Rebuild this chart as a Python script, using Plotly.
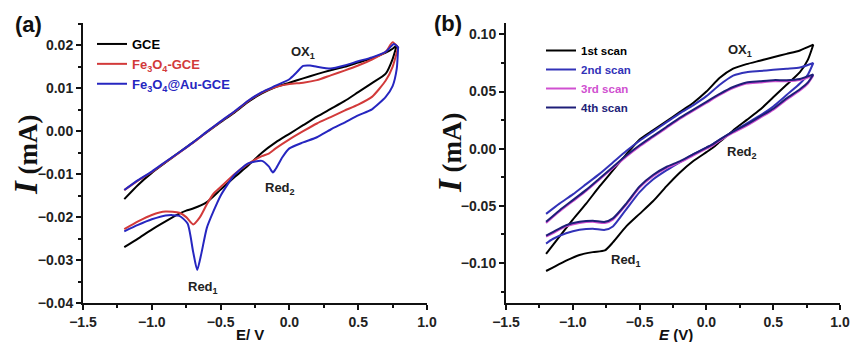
import plotly.graph_objects as go

# ---------------- Panel (a) data ----------------
E_up_a = [-1.2, -1.1, -1.0, -0.9, -0.8, -0.7, -0.6, -0.5, -0.4, -0.3, -0.2, -0.1,
          0.0, 0.1, 0.2, 0.3, 0.4, 0.5, 0.6, 0.7, 0.75, 0.78]
gce_up = [-0.0158, -0.0125, -0.0097, -0.0073, -0.0049, -0.0026, -0.0002, 0.0021, 0.0043,
          0.0068, 0.0088, 0.0103, 0.0113, 0.0123, 0.0133, 0.0142, 0.0150, 0.0160, 0.0170,
          0.0183, 0.0192, 0.0200]
E_dn_gce = [0.78, 0.75, 0.7, 0.6, 0.5, 0.4, 0.3, 0.2, 0.1, 0.0, -0.1, -0.2, -0.3, -0.4,
            -0.5, -0.6, -0.7, -0.75, -0.8, -0.9, -1.0, -1.1, -1.2]
gce_dn = [0.0200, 0.0168, 0.0134, 0.0112, 0.0091, 0.0070, 0.0052, 0.0034, 0.0014, -0.0006,
          -0.0026, -0.0050, -0.0080, -0.0107, -0.0136, -0.0165, -0.0180, -0.0185, -0.0192,
          -0.0210, -0.0229, -0.0250, -0.0270]

E_up_fe = [-1.2, -1.1, -1.0, -0.9, -0.8, -0.7, -0.6, -0.5, -0.4, -0.3, -0.2, -0.1,
           0.0, 0.1, 0.2, 0.3, 0.4, 0.5, 0.6, 0.7, 0.75, 0.79]
fe_up = [-0.0137, -0.0115, -0.0095, -0.0072, -0.0050, -0.0027, -0.0002, 0.0022, 0.0045,
         0.0070, 0.0090, 0.0103, 0.0110, 0.0113, 0.0119, 0.0130, 0.0141, 0.0153, 0.0167,
         0.0185, 0.0207, 0.0195]
E_dn_fe = [0.79, 0.75, 0.7, 0.6, 0.5, 0.4, 0.3, 0.2, 0.1, 0.0, -0.1, -0.15, -0.2, -0.3,
           -0.4, -0.5, -0.55, -0.6, -0.65, -0.7, -0.75, -0.8, -0.9, -1.0, -1.1, -1.2]
fe_dn = [0.0195, 0.0150, 0.0118, 0.0080, 0.0062, 0.0048, 0.0033, 0.0018, 0.0000, -0.0019,
         -0.0040, -0.0052, -0.0058, -0.0076, -0.0100, -0.0130, -0.0145, -0.0170, -0.0200,
         -0.0217, -0.0200, -0.0190, -0.0187, -0.0195, -0.0210, -0.0228]

E_up_au = [-1.2, -1.1, -1.0, -0.9, -0.8, -0.7, -0.6, -0.5, -0.4, -0.3, -0.2, -0.1,
           0.0, 0.05, 0.1, 0.15, 0.2, 0.3, 0.4, 0.5, 0.6, 0.7, 0.76, 0.79]
au_up = [-0.0137, -0.0114, -0.0094, -0.0071, -0.0049, -0.0026, -0.0001, 0.0023, 0.0046,
         0.0071, 0.0091, 0.0106, 0.0121, 0.0136, 0.0152, 0.0153, 0.0150, 0.0146, 0.0153,
         0.0163, 0.0172, 0.0185, 0.0203, 0.0195]
E_dn_au = [0.79, 0.78, 0.75, 0.7, 0.6, 0.5, 0.4, 0.3, 0.2, 0.1, 0.0, -0.05, -0.1, -0.12,
           -0.15, -0.2, -0.3, -0.4, -0.5, -0.55, -0.6, -0.64, -0.67, -0.7, -0.74, -0.8,
           -0.9, -1.0, -1.1, -1.2]
au_dn = [0.0195, 0.0145, 0.0105, 0.0080, 0.0051, 0.0037, 0.0020, 0.0004, -0.0014, -0.0026,
         -0.0040, -0.0060, -0.0088, -0.0096, -0.0082, -0.0069, -0.0075, -0.0102, -0.0150,
         -0.0185, -0.0225, -0.0285, -0.0323, -0.0280, -0.0215, -0.0197, -0.0196, -0.0205,
         -0.0218, -0.0233]

# ---------------- Panel (b) data ----------------
E_up_b = [-1.2, -1.1, -1.0, -0.9, -0.8, -0.7, -0.6, -0.5, -0.4, -0.3, -0.2, -0.1,
          0.0, 0.1, 0.2, 0.3, 0.4, 0.5, 0.6, 0.7, 0.8]
E_dn_b = [0.8, 0.76, 0.7, 0.6, 0.5, 0.4, 0.3, 0.2, 0.1, 0.05, 0.0, -0.1, -0.2, -0.3, -0.4,
          -0.5, -0.6, -0.7, -0.76, -0.85, -0.95, -1.05, -1.15, -1.2]

s1_up = [-0.092, -0.077, -0.062, -0.048, -0.033, -0.019, -0.005, 0.008, 0.016, 0.024,
         0.032, 0.040, 0.050, 0.062, 0.070, 0.074, 0.077, 0.080, 0.083, 0.086, 0.091]
s1_dn = [0.091, 0.078, 0.067, 0.056, 0.045, 0.034, 0.025, 0.016, 0.006, 0.001, -0.003,
         -0.011, -0.021, -0.033, -0.046, -0.057, -0.068, -0.082, -0.089, -0.0905, -0.093,
         -0.098, -0.104, -0.107]

s2_up = [-0.057, -0.048, -0.040, -0.031, -0.022, -0.012, -0.002, 0.007, 0.015, 0.023,
         0.031, 0.038, 0.046, 0.056, 0.064, 0.067, 0.068, 0.069, 0.070, 0.071, 0.075]
s2_dn = [0.075, 0.065, 0.057, 0.047, 0.037, 0.029, 0.022, 0.015, 0.008, 0.004, 0.001,
         -0.005, -0.012, -0.019, -0.027, -0.038, -0.053, -0.068, -0.071, -0.070, -0.071,
         -0.074, -0.079, -0.083]

s3_up = [-0.065, -0.055, -0.046, -0.037, -0.027, -0.017, -0.007, 0.002, 0.010, 0.018,
         0.026, 0.033, 0.040, 0.047, 0.053, 0.057, 0.058, 0.059, 0.059, 0.060, 0.064]
s3_dn = [0.064, 0.057, 0.051, 0.043, 0.034, 0.027, 0.020, 0.014, 0.007, 0.003, 0.000,
         -0.006, -0.012, -0.017, -0.024, -0.034, -0.049, -0.062, -0.065, -0.064, -0.065,
         -0.068, -0.074, -0.077]

s4_up = [-0.064, -0.054, -0.045, -0.036, -0.026, -0.016, -0.006, 0.003, 0.011, 0.019,
         0.027, 0.034, 0.041, 0.048, 0.054, 0.058, 0.059, 0.060, 0.060, 0.061, 0.065]
s4_dn = [0.065, 0.058, 0.052, 0.044, 0.035, 0.028, 0.021, 0.015, 0.008, 0.004, 0.001,
         -0.005, -0.011, -0.016, -0.023, -0.033, -0.048, -0.061, -0.064, -0.063, -0.064,
         -0.067, -0.073, -0.076]

ticks_a_y = [-0.04, -0.03, -0.02, -0.01, 0.00, 0.01, 0.02]
ticks_b_y = [-0.10, -0.05, 0.00, 0.05, 0.10]
ticks_x = [-1.5, -1.0, -0.5, 0.0, 0.5, 1.0]

RED = "#d23a3a"
BLUE = "#2626c0"
BLUE2 = "#3232b8"
MAG = "#d050d0"
NAVY = "#1e1e78"

fig = go.Figure()

def add(x_up, y_up, x_dn, y_dn, name, color, xa, ya, legend, width=2):
    fig.add_trace(go.Scatter(
        x=list(x_up) + list(x_dn), y=list(y_up) + list(y_dn), mode="lines",
        line=dict(color=color, width=width, shape="spline", smoothing=0.6),
        name=name, xaxis=xa, yaxis=ya, legend=legend))

add(E_up_a, gce_up, E_dn_gce, gce_dn, '<span style="color:#000000">GCE</span>', "#000000", "x", "y", "legend")
add(E_up_fe, fe_up, E_dn_fe, fe_dn, '<span style="color:%s">Fe<sub>3</sub>O<sub>4</sub>-GCE</span>' % RED, RED, "x", "y", "legend")
add(E_up_au, au_up, E_dn_au, au_dn, '<span style="color:%s">Fe<sub>3</sub>O<sub>4</sub>@Au-GCE</span>' % BLUE, BLUE, "x", "y", "legend")

add(E_up_b, s1_up, E_dn_b, s1_dn, '<span style="color:#000000">1st scan</span>', "#000000", "x2", "y2", "legend2")
add(E_up_b, s2_up, E_dn_b, s2_dn, '<span style="color:%s">2nd scan</span>' % BLUE2, BLUE2, "x2", "y2", "legend2")
add(E_up_b, s3_up, E_dn_b, s3_dn, '<span style="color:%s">3rd scan</span>' % MAG, MAG, "x2", "y2", "legend2")
add(E_up_b, s4_up, E_dn_b, s4_dn, '<span style="color:%s">4th scan</span>' % NAVY, NAVY, "x2", "y2", "legend2")

W, H = 853, 342
def px(x):
    return x / W
def py(y):
    return 1 - y / H

tickfont = dict(family="Liberation Sans, Arial", size=14, color="#222", weight="bold")
axis_common = dict(showline=True, linecolor="#111", linewidth=2, ticks="outside",
                   ticklen=5, tickwidth=2, tickcolor="#111", showgrid=False,
                   zeroline=False, mirror=False, tickfont=tickfont, automargin=False,
                   ticklabeloverflow="allow")

fig.update_layout(
    width=W, height=H, margin=dict(l=0, r=0, t=0, b=0, autoexpand=False),
    paper_bgcolor="white", plot_bgcolor="white",
    xaxis=dict(domain=[px(83), px(427)], range=[-1.5, 1.0], tickvals=ticks_x,
               tickformat=".1f", anchor="y",
               minor=dict(dtick=0.25, ticks="outside", ticklen=3, tickwidth=1.5, tickcolor="#111"),
               **axis_common),
    yaxis=dict(domain=[py(303), py(23)], range=[-0.04, 0.0252], tickvals=ticks_a_y,
               tickformat=".2f", anchor="x",
               minor=dict(dtick=0.005, ticks="outside", ticklen=3, tickwidth=1.5, tickcolor="#111"),
               **axis_common),
    xaxis2=dict(domain=[px(506), px(840)], range=[-1.5, 1.0], tickvals=ticks_x,
                tickformat=".1f", anchor="y2",
                minor=dict(dtick=0.25, ticks="outside", ticklen=3, tickwidth=1.5, tickcolor="#111"),
                **axis_common),
    yaxis2=dict(domain=[py(303), py(23)], range=[-0.135, 0.11], tickvals=ticks_b_y,
                tickformat=".2f", anchor="x2",
                minor=dict(dtick=0.025, ticks="outside", ticklen=3, tickwidth=1.5, tickcolor="#111"),
                **axis_common),
    legend=dict(x=px(92), y=py(29), xanchor="left", yanchor="top", bgcolor="rgba(0,0,0,0)",
                font=dict(family="Liberation Sans, Arial", size=13, weight="bold"),
                tracegroupgap=0, itemwidth=30),
    legend2=dict(x=px(541), y=py(36), xanchor="left", yanchor="top", bgcolor="rgba(0,0,0,0)",
                 font=dict(family="Liberation Sans, Arial", size=11.5, weight="bold"),
                 tracegroupgap=0, itemwidth=30),
    showlegend=True,
)

lab = dict(family="Liberation Sans, Arial", size=13, color="#222", weight="bold")
def ann(x, y, text, xref, yref, font, **kw):
    fig.add_annotation(x=x, y=y, text=text, xref=xref, yref=yref, showarrow=False,
                       font=font, xanchor="center", yanchor="middle", **kw)

# curve labels (data coordinates)
ann(0.10, 0.0183, "OX<sub>1</sub>", "x", "y", lab)
ann(-0.07, -0.0133, "Red<sub>2</sub>", "x", "y", lab)
ann(-0.63, -0.0365, "Red<sub>1</sub>", "x", "y", lab)
ann(0.25, 0.086, "OX<sub>1</sub>", "x2", "y2", lab)
ann(0.27, -0.003, "Red<sub>2</sub>", "x2", "y2", lab)
ann(-0.60, -0.098, "Red<sub>1</sub>", "x2", "y2", lab)

# panel labels
big = dict(family="Liberation Sans, Arial", size=22, color="#111", weight="bold")
ann(px(28), py(25), "(a)", "paper", "paper", big)
ann(px(448), py(23), "(b)", "paper", "paper", big)

# axis titles
ytf = dict(family="Liberation Serif, Times New Roman", size=27, color="#111", weight="bold")
ytitle = '<i><span style="font-size:33px">I</span></i> (mA)'
ann(px(26), py(155), ytitle, "paper", "paper", ytf, textangle=-90)
ann(px(450), py(152), ytitle, "paper", "paper", ytf, textangle=-90)
xtf = dict(family="Liberation Sans, Arial", size=15, color="#111", weight="bold")
ann(px(250), py(334), "E/ V", "paper", "paper", xtf)
ann(px(676), py(334), "<i>E</i> (V)", "paper", "paper", xtf)

fig.write_html("out.html")
